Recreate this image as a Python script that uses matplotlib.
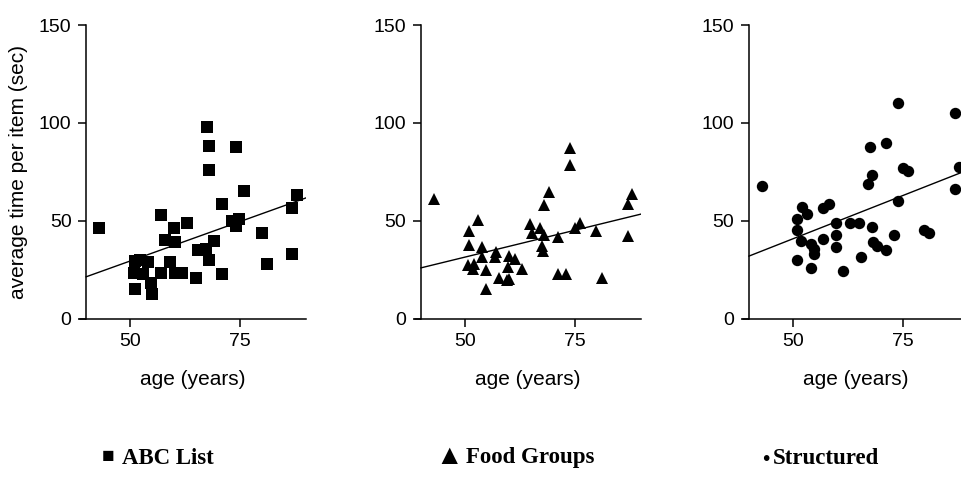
import numpy as np
import matplotlib
matplotlib.use("Agg")
import matplotlib.pyplot as plt

# ---- data ----
abc_age = [43.0, 67.5, 68.0, 74.0, 68.0, 76.0, 88.0, 86.9, 70.9, 57.0, 63.0, 59.9, 73.1,
           74.8, 74.0, 79.9, 58.0, 60.1, 69.0, 65.5, 67.2, 68.0, 86.9, 81.1, 70.9, 64.9,
           59.0, 51.1, 52.3, 54.0, 50.9, 53.0, 57.0, 60.1, 61.7, 51.1, 54.8, 55.0]
abc_time = [46.2, 98.1, 88.2, 87.4, 75.9, 65.4, 63.1, 56.7, 58.4, 52.9, 49.0, 46.4, 49.8,
            50.9, 47.3, 43.9, 40.1, 38.9, 39.6, 34.8, 35.5, 29.9, 32.9, 27.8, 22.7, 20.8,
            29.0, 29.2, 29.9, 28.7, 23.0, 22.7, 23.5, 23.2, 23.4, 15.2, 17.9, 12.3]

food_age = [42.9, 74.0, 74.0, 69.1, 68.0, 52.9, 50.9, 50.9, 53.9, 64.9, 65.3, 67.0, 68.0,
            67.7, 71.1, 75.0, 76.1, 79.9, 88.0, 87.1, 87.1, 57.0, 56.8, 60.0, 61.5, 50.8,
            52.0, 51.9, 53.9, 54.9, 54.9, 57.7, 60.0, 59.8, 62.9, 71.1, 73.0, 81.1, 59.6, 67.6]
food_time = [60.9, 87.1, 78.3, 64.8, 58.0, 50.4, 44.8, 37.7, 36.4, 48.2, 43.5, 46.2, 42.6,
             34.3, 41.5, 46.0, 48.6, 44.8, 63.5, 58.4, 42.3, 33.8, 31.3, 32.1, 30.5, 27.1,
             27.9, 25.4, 31.3, 25.0, 15.2, 20.8, 20.3, 26.2, 25.4, 22.8, 22.8, 20.8, 19.5, 36.9]

struct_age = [43.0, 73.9, 86.9, 67.5, 71.1, 75.0, 76.1, 87.8, 67.9, 67.1, 86.9, 73.9, 52.0,
              53.2, 56.9, 58.1, 50.9, 50.9, 59.9, 63.0, 65.1, 67.9, 51.9, 54.1, 56.9, 59.9,
              59.9, 54.9, 54.7, 50.9, 54.0, 61.4, 65.4, 68.1, 69.2, 71.1, 73.0, 79.9, 81.0]
struct_time = [67.7, 110.2, 104.8, 87.6, 89.8, 76.9, 75.5, 77.6, 73.1, 68.9, 66.0, 60.0, 57.0,
               53.6, 56.5, 58.7, 51.0, 45.4, 48.8, 48.8, 48.8, 46.8, 39.5, 38.3, 40.5, 42.9,
               36.6, 33.2, 35.7, 29.8, 25.9, 24.1, 31.5, 39.1, 36.9, 34.9, 42.5, 45.1, 43.9]

x_ticks = [50, 75]
y_ticks = [0, 50, 100, 150]
legend_symbols = ["\u25a0", "\u25b2", "\u2022"]
legend_labels = ["ABC List", "Food Groups", "Structured"]

plt.rcParams['font.family'] = ['Liberation Sans', 'DejaVu Sans']

fig = plt.figure(figsize=(9.62, 4.84), dpi=100)

W, H = 962, 484
lefts_px = [80, 414.8, 742.8]
ax_w_px = 226
bottom_px, top_px = 318.5, 25

panels = [(abc_age, abc_time, 's', 8.6), (food_age, food_time, '^', 8.6),
          (struct_age, struct_time, 'o', 8.2)]

for i, (lx, (ages, times, mk, ms)) in enumerate(zip(lefts_px, panels)):
    ax = fig.add_axes([lx / W, (H - bottom_px) / H, ax_w_px / W, (bottom_px - top_px) / H])
    ax.plot(ages, times, linestyle='none', marker=mk, markersize=ms, color='black',
            markeredgewidth=0, clip_on=False)
    coef = np.polyfit(ages, times, 1)
    xs = np.array([40, 90])
    ax.plot(xs, np.polyval(coef, xs), color='black', lw=1.0)
    ax.set_xlim(38.6, 90)
    ax.set_ylim(0, 150)
    ax.spines['left'].set_position(('data', 40))
    for s in ['top', 'right']:
        ax.spines[s].set_visible(False)
    for s in ['left', 'bottom']:
        ax.spines[s].set_linewidth(1.1)
    ax.set_xticks(x_ticks)
    ax.set_yticks(y_ticks)
    ax.tick_params(direction='out', length=5.5, width=1.1, labelsize=14, pad=5)
    ax.set_xlabel("age (years)", fontsize=15, labelpad=14)
    if i == 0:
        ax.set_ylabel("average time per item (sec)", fontsize=15, labelpad=8)

serif = ['Liberation Serif', 'DejaVu Serif']
sym_x_px = [102, 435, 762]
sym_y_px = [457, 457, 460]
sym_size = [15, 20, 15]
label_x_px = [122, 466, 773]
for sx, sy, ss, lx, sym, lab in zip(sym_x_px, sym_y_px, sym_size, label_x_px,
                                    legend_symbols, legend_labels):
    fig.text(sx / W, (H - sy) / H, sym, ha='left', va='center', fontsize=ss,
             fontweight='bold', family=serif)
    fig.text(lx / W, (H - 458) / H, lab, ha='left', va='center', fontsize=16.5,
             fontweight='bold', family=serif)

fig.savefig("out.png", dpi=100)
